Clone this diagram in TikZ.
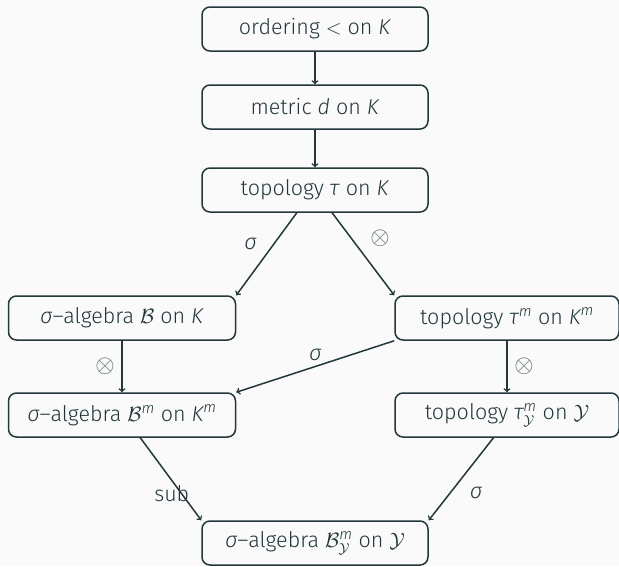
\documentclass[tikz,border=0pt]{standalone}
\usepackage{amsmath}
\usepackage{fontspec}
\setmainfont{Fira Sans}[UprightFont=* Light,ItalicFont=* Light Italic]
\usetikzlibrary{calc}
\definecolor{mteal}{HTML}{23373B}
\definecolor{mbg}{HTML}{FAFAFA}
\begin{document}
\begin{tikzpicture}[x=1pt,y=-1pt,
  box/.style={draw=mteal,text=mteal,line width=1.5pt,rounded corners=8pt,
    minimum height=44pt,inner sep=0pt,font=\fontsize{21.5}{26}\selectfont},
  arr/.style={->,draw=mteal,line width=1.5pt},
  lbl/.style={text=mteal,font=\fontsize{21.5}{26}\selectfont,inner sep=0pt},
  prod/.style={lbl,text=mteal!75,font=\fontsize{26}{30}\selectfont}]
\newcommand{\ik}{\textit{K}}
\fill[mbg] (0,0) rectangle (619,566);
\useasboundingbox (0,0) rectangle (619,566);

% boxes
\node[box,minimum width=226pt] (o) at (315,29) {ordering $<$ on \ik};
\node[box,minimum width=226pt] (m) at (315,107) {metric \textit{d} on \ik};
\node[box,minimum width=226pt] (t) at (315,190) {topology \textit{τ} on \ik};
\node[box,minimum width=227pt] (bk) at (122,318) {\textit{σ}–algebra $\mathcal{B}$ on \ik};
\node[box,minimum width=224pt] (tm) at (507,318) {topology $\textit{τ}^{\textit{m}}$ on $\textit{K}^{\textit{m}}$};
\node[box,minimum width=227pt] (bm) at (122,415) {\textit{σ}–algebra $\mathcal{B}^{\textit{m}}$ on $\textit{K}^{\textit{m}}$};
\node[box,minimum width=224pt] (ty) at (507,415) {topology $\textit{τ}^{\textit{m}}_{\mathcal{Y}}$ on $\mathcal{Y}$};
\node[box,minimum width=226pt] (by) at (315,543) {\textit{σ}–algebra $\mathcal{B}^{\textit{m}}_{\mathcal{Y}}$ on $\mathcal{Y}$};

% connectors
\draw[arr] (o) -- (m);
\draw[arr] (m) -- (t);
\draw[arr] ($(t.south west)!0.42!(t.south east)$) -- (bk.north east)
  node[lbl,midway,xshift=-16pt,yshift=10pt] {\textit{σ}};
\draw[arr] ($(t.south west)!0.575!(t.south east)$) -- (tm.north west)
  node[prod,midway,xshift=17pt,yshift=16pt] {$\otimes$};
\draw[arr] (tm.south west) -- (bm.north east)
  node[lbl,midway,yshift=12pt] {\textit{σ}};
\draw[arr] (bk) -- (bm)
  node[prod,midway,xshift=-17pt] {$\otimes$};
\draw[arr] (tm) -- (ty)
  node[prod,midway,xshift=17pt] {$\otimes$};
\draw[arr] ($(bm.south west)!0.58!(bm.south east)$) -- (by.north west)
  node[lbl,midway,xshift=1pt,yshift=-15pt] {sub};
\draw[arr] ($(ty.south west)!0.44!(ty.south east)$) -- (by.north east)
  node[lbl,midway,xshift=15pt,yshift=-13.5pt] {\textit{σ}};
\end{tikzpicture}
\end{document}
